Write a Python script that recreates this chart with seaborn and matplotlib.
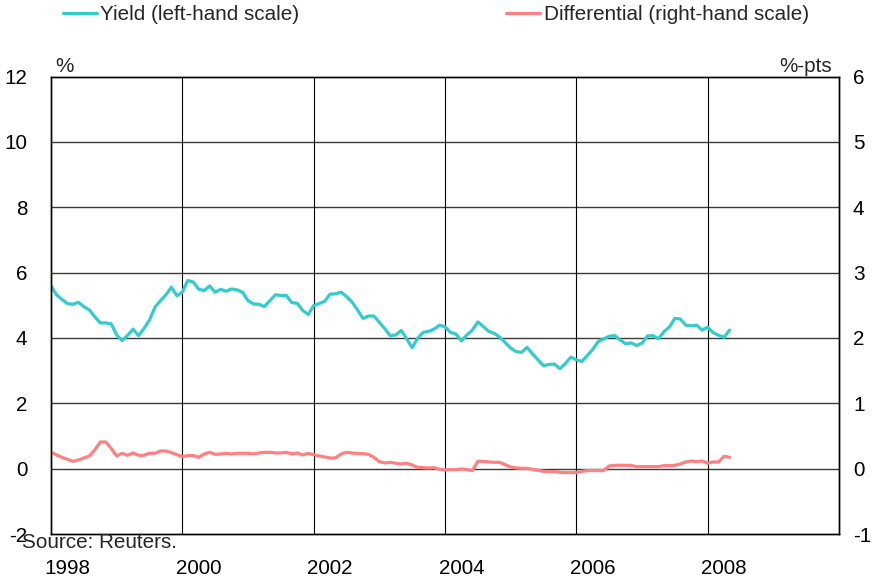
import numpy as np
import pandas as pd
import matplotlib
matplotlib.use("Agg")
import matplotlib.pyplot as plt
import seaborn as sns

# ---- data (monthly, Jan 1998 - May 2008) ----
yield_pct = [
    5.59, 5.32, 5.18, 5.05, 5.03, 5.09, 4.96, 4.86, 4.65, 4.46, 4.46, 4.43,  # 1998
    4.09, 3.92, 4.08, 4.27, 4.07, 4.29, 4.55, 4.94, 5.14, 5.32, 5.55, 5.29,  # 1999
    5.40, 5.76, 5.71, 5.49, 5.45, 5.59, 5.40, 5.49, 5.43, 5.50, 5.47, 5.40,  # 2000
    5.14, 5.04, 5.03, 4.96, 5.14, 5.32, 5.30, 5.30, 5.08, 5.06, 4.84, 4.72,  # 2001
    4.99, 5.05, 5.12, 5.34, 5.35, 5.40, 5.27, 5.10, 4.86, 4.60, 4.67, 4.67,  # 2002
    4.48, 4.28, 4.07, 4.09, 4.23, 3.97, 3.70, 3.99, 4.17, 4.20, 4.27, 4.39,  # 2003
    4.34, 4.17, 4.12, 3.91, 4.09, 4.24, 4.49, 4.35, 4.20, 4.14, 4.02, 3.86,  # 2004
    3.69, 3.58, 3.56, 3.71, 3.51, 3.33, 3.15, 3.19, 3.20, 3.06, 3.22, 3.41,  # 2005
    3.33, 3.28, 3.46, 3.65, 3.89, 3.97, 4.05, 4.07, 3.94, 3.82, 3.85, 3.77,  # 2006
    3.84, 4.06, 4.07, 3.97, 4.19, 4.33, 4.60, 4.58, 4.39, 4.37, 4.39, 4.24,  # 2007
    4.33, 4.16, 4.08, 4.02, 4.24,                                            # 2008
]
differential_pts = [
    0.255, 0.21, 0.173, 0.143, 0.112, 0.133, 0.163, 0.194, 0.286, 0.408, 0.408, 0.311,
    0.194, 0.235, 0.204, 0.24, 0.204, 0.204, 0.235, 0.235, 0.27, 0.27, 0.245, 0.214,
    0.184, 0.199, 0.199, 0.173, 0.224, 0.25, 0.219, 0.224, 0.235, 0.224, 0.235, 0.235,
    0.235, 0.224, 0.24, 0.25, 0.25, 0.24, 0.24, 0.25, 0.224, 0.24, 0.209, 0.235,
    0.214, 0.194, 0.179, 0.163, 0.163, 0.224, 0.25, 0.24, 0.23, 0.23, 0.219, 0.173,
    0.107, 0.087, 0.097, 0.082, 0.071, 0.082, 0.056, 0.02, 0.015, 0.01, 0.015, -0.01,
    -0.02, -0.015, -0.015, -0.005, -0.015, -0.03, 0.112, 0.112, 0.102, 0.097, 0.097, 0.061,
    0.026, 0.01, 0.005, 0.005, -0.01, -0.026, -0.041, -0.046, -0.046, -0.056, -0.061, -0.061,
    -0.061, -0.041, -0.03, -0.03, -0.03, -0.03, 0.041, 0.051, 0.051, 0.051, 0.051, 0.031,
    0.031, 0.031, 0.031, 0.031, 0.046, 0.046, 0.051, 0.071, 0.102, 0.117, 0.107, 0.117,
    0.082, 0.102, 0.102, 0.189, 0.173,
]
start_year = 1998
year_labels = ["1998", "2000", "2002", "2004", "2006", "2008"]
left_ticks = [-2, 0, 2, 4, 6, 8, 10, 12]
right_ticks = [-1, 0, 1, 2, 3, 4, 5, 6]
series_names = ["Yield (left-hand scale)", "Differential (right-hand scale)"]
source_text = "Source: Reuters."

n = min(len(yield_pct), len(differential_pts))
t = start_year + np.arange(n) / 12.0
df = pd.DataFrame({"t": t, "yield": yield_pct[:n], "diff": differential_pts[:n]})

# ---- style ----
sns.set_theme(style="white")
plt.rcParams["font.family"] = ["Liberation Sans", "DejaVu Sans"]
FS = 14.9
CYAN = "#33CCCC"
PINK = "#FF8080"

W, H = 875, 582
fig = plt.figure(figsize=(W / 100, H / 100), dpi=100)
ax = fig.add_axes([51 / W, 1 - 534 / H, (839 - 51) / W, (534 - 76.5) / H])
ax2 = ax.twinx()

sns.lineplot(data=df, x="t", y="yield", ax=ax, color=CYAN, linewidth=2.3,
             label=series_names[0], legend=False)
sns.lineplot(data=df, x="t", y="diff", ax=ax2, color=PINK, linewidth=2.3,
             label=series_names[1], legend=False)

ax.set_xlim(1998, 2010)
ax.set_ylim(-2, 12)
ax2.set_ylim(-1, 6)
ax.set_xlabel("")
ax.set_ylabel("")
ax2.set_ylabel("")

# y ticks
ax.set_yticks(left_ticks)
ax.set_yticklabels([str(v) for v in left_ticks], fontsize=FS)
ax2.set_yticks(right_ticks)
ax2.set_yticklabels([str(v) for v in right_ticks], fontsize=FS)
ax.tick_params(axis="y", length=0, pad=17, colors="black")
ax2.tick_params(axis="y", length=0, pad=10, colors="black")

# horizontal gridlines
for v in left_ticks[1:-1]:
    ax.axhline(v, color="#3a3a3a", lw=1.0, zorder=0.5)
# vertical gridlines at even years
even_years = [int(s) for s in year_labels]
for yv in even_years[1:]:
    ax.axvline(yv, color="black", lw=0.8, zorder=0.5)

# x labels placed a quarter year after each even year; odd year minor ticks
ax.set_xticks([y + 0.25 for y in even_years])
ax.set_xticklabels(year_labels, fontsize=FS)
ax.tick_params(axis="x", length=0, pad=18, colors="black")
ax.set_xticks(list(range(1999, 2010, 2)), minor=True)
ax.tick_params(axis="x", which="minor", direction="in", length=5, width=0.8,
               color="black")
ax.grid(False)
ax2.grid(False)

for a in (ax, ax2):
    for s in a.spines.values():
        s.set_color("black")
        s.set_linewidth(1.0)

# unit labels
fig.text(55 / W, 1 - 72 / H, "%", fontsize=FS, ha="left", va="baseline")
fig.text(832 / W, 1 - 72 / H, "%-pts", fontsize=FS, ha="right", va="baseline")
fig.text(22 / W, 1 - 548 / H, source_text, fontsize=FS, ha="left", va="baseline")

# legend
h1, l1 = ax.get_legend_handles_labels()
h2, l2 = ax2.get_legend_handles_labels()
fig.legend(h1 + h2, l1 + l2, loc="center left", bbox_to_anchor=(63 / W, 1 - 15 / H),
           ncol=2, frameon=False, fontsize=FS, handlelength=1.65,
           handletextpad=0.15, columnspacing=10.0, borderpad=0, borderaxespad=0)

fig.savefig("out.png", dpi=100)
